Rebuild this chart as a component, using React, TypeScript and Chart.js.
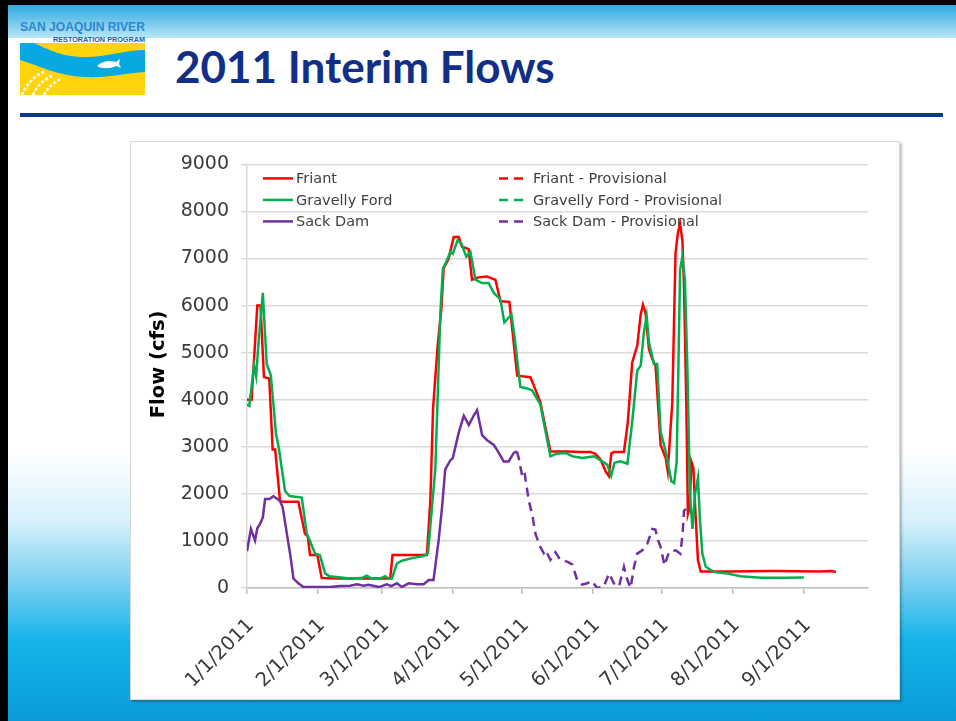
import React, { useEffect, useRef } from "react";
import { Chart, registerables } from "chart.js";

Chart.register(...registerables);

// ---- axis data ----
const monthStartDays = [0, 31, 59, 90, 120, 151, 181, 212, 243];
const monthTickLabels = [
  "1/1/2011", "2/1/2011", "3/1/2011", "4/1/2011", "5/1/2011",
  "6/1/2011", "7/1/2011", "8/1/2011", "9/1/2011",
];
const xMaxDay = 271;
const yMin = 0;
const yMax = 9000;
const yStep = 1000;
const yAxisTitle = "Flow (cfs)";

// ---- series: [day offset from 1/1/2011, flow cfs] ----
const friantFlow: [number, number][] = [
  [0, 4000], [2, 4000], [4.5, 6000], [5.9, 6000], [7.4, 4480], [9.7, 4450],
  [11.2, 2940], [12.3, 2940], [14.4, 1850], [16, 1830], [22.4, 1830],
  [25.3, 1150], [26.5, 1100], [27.5, 700], [30.7, 700], [32.6, 210],
  [40, 200], [50, 200], [62.5, 200], [63.5, 700], [78.5, 700], [80, 1850],
  [81.2, 3810], [83.2, 5150], [84.8, 5920], [85.8, 6790], [88, 7000],
  [90.2, 7460], [92.4, 7460], [93.8, 7250], [96.7, 7200], [98.2, 6550],
  [101, 6600], [104.7, 6620], [108.4, 6550], [110.6, 6090], [114.5, 6080],
  [117.9, 4510], [123.7, 4480], [128, 3950], [132.4, 2900], [140, 2900],
  [145, 2890], [150, 2890], [152, 2850], [154.3, 2730], [156.5, 2480],
  [157.9, 2380], [159, 2860], [160.1, 2890], [164.5, 2890], [166.2, 3530],
  [168.1, 4790], [170.3, 5150], [171.8, 5810], [172.8, 6020], [173.9, 5850],
  [175.4, 5080], [176.9, 4860], [178.3, 4720], [180.5, 3040], [182.7, 2760],
  [183.6, 2480], [185.6, 3950], [187, 7110], [188, 7530], [189, 7740],
  [190, 7390], [190.7, 6410], [191.7, 3950], [192.4, 1570], [193.2, 1710],
  [193.9, 2690], [194.8, 2550], [195.8, 1500], [196.8, 590], [198, 350],
  [210, 350], [230, 360], [250, 350], [255, 360], [257, 340],
];

const gravellyFordFlow: [number, number][] = [
  [0, 3900], [1, 3870], [3.1, 4730], [4, 4500], [5, 5200], [6.9, 6270],
  [8.6, 4760], [10.4, 4520], [12.7, 3260], [13.9, 2970], [16.6, 2060],
  [18.6, 1955], [23.9, 1920], [26.1, 1150], [27.5, 1000], [29.7, 730],
  [31.8, 700], [34.1, 310], [36, 250], [45, 200], [50, 210], [52.3, 260],
  [54, 210], [58, 200], [60.3, 250], [61.5, 210], [63.2, 200], [65.4, 520],
  [67.6, 580], [72.6, 640], [77, 680], [79, 750], [82.2, 2550], [84.4, 5850],
  [85.5, 6790], [87, 6930], [88.7, 7140], [89.8, 7100], [91.9, 7390],
  [93.5, 7320], [95.7, 7040], [97.5, 7140], [99.7, 6550], [102.5, 6480],
  [105.4, 6480], [107.7, 6270], [110.6, 6130], [112.3, 5640], [115.4, 5810],
  [116.7, 5360], [119.3, 4270], [122.2, 4240], [124.4, 4200], [128, 3900],
  [132.4, 2800], [135, 2850], [139, 2870], [142, 2800], [146.3, 2760],
  [151.4, 2800], [155, 2690], [157.2, 2620], [158.9, 2380], [160.4, 2660],
  [163, 2690], [166, 2640], [168.1, 3530], [170.3, 4620], [171.8, 4720],
  [173.2, 5430], [174.4, 5780], [175.4, 5220], [177.6, 4760], [179, 4760],
  [180.5, 3320], [182.7, 2900], [184.1, 2550], [185.2, 2270], [186.4, 2230],
  [187.5, 2690], [188.3, 4800], [189, 6760], [190, 7040], [191.1, 6550],
  [192.2, 4650], [193.3, 1990], [194.4, 1255], [195.5, 1990], [196.8, 2340],
  [197.6, 1500], [198.7, 730], [200.2, 450], [203.8, 340], [209.6, 310],
  [215.4, 250], [224.2, 220], [235, 220], [243, 225],
];

const sackDamFlow: [number, number][] = [
  [0, 780], [1.7, 1255], [3.5, 1010], [4.5, 1270], [5.7, 1360], [6.9, 1500],
  [7.9, 1890], [9.8, 1890], [11.5, 1950], [13, 1900], [14.4, 1850],
  [15.6, 1710], [17.4, 1150], [18.8, 730], [20.3, 200], [22.4, 100],
  [24.6, 20], [30, 20], [36.3, 20], [40.6, 40], [45, 50], [48, 80],
  [50.9, 50], [53, 70], [57.6, 20], [61, 80], [63, 40], [65.4, 100],
  [67.6, 20], [70.5, 100], [74.1, 80], [77.1, 80], [79.3, 170], [81.4, 170],
  [83.6, 1000], [85.1, 1710], [86.5, 2520], [88.7, 2710], [89.8, 2760],
  [92.4, 3300], [94.6, 3660], [96.8, 3460], [99, 3670], [100.4, 3780],
  [102.6, 3250], [104.8, 3140], [107.7, 3040], [109.9, 2870], [112, 2690],
  [114.2, 2690], [116.4, 2870], [117.8, 2900],
];

const sackDamProvisional: [number, number][] = [
  [117.8, 2900], [118.6, 2760], [120, 2400], [121, 2480], [123, 1850],
  [124.5, 1550], [125.9, 1150], [128, 870], [129.5, 740], [130.3, 800],
  [132.4, 600], [134.6, 760], [136.8, 590], [139.7, 560], [141.9, 500],
  [144.1, 170], [146.3, 70], [148.5, 100], [150.5, 150], [152.8, 0],
  [155.7, 30], [158, 310], [160.1, 100], [162.3, 30], [164.5, 450],
  [166, 170], [167.4, 0], [168.9, 450], [170.3, 730], [172.5, 800],
  [174.7, 940], [176.9, 1255], [178.2, 1240], [179.5, 1000], [180.5, 870],
  [182.2, 480], [184.2, 770], [187.1, 800], [189.1, 730], [190.1, 1150],
  [190.7, 1640], [191.9, 1700],
];

const friantProvisional: [number, number][] = [];
const gravellyFordProvisional: [number, number][] = [];

const seriesLabels = [
  "Friant", "Gravelly Ford", "Sack Dam",
  "Friant - Provisional", "Gravelly Ford - Provisional", "Sack Dam - Provisional",
];

const RED = "#ff0000";
const GREEN = "#00b050";
const PURPLE = "#7030a0";
const DASH = [9, 6];

const toXY = (arr: [number, number][]) => arr.map(([x, y]) => ({ x, y }));

const legendPlugin = {
  id: "cornerLegend",
  afterDraw(chart: any) {
    const { ctx, chartArea } = chart;
    ctx.save();
    ctx.font = '14.5px "DejaVu Sans"';
    ctx.textBaseline = "middle";
    chart.data.datasets.forEach((ds: any, i: number) => {
      const col = i < 3 ? 0 : 1;
      const row = i % 3;
      const y = chartArea.top + 14 + row * 21.5;
      const x0 = chartArea.left + (col === 0 ? 16 : 252);
      const len = col === 0 ? 30 : 26;
      ctx.strokeStyle = ds.borderColor;
      ctx.lineWidth = 2.5;
      ctx.setLineDash(ds.borderDash || []);
      ctx.beginPath();
      ctx.moveTo(x0, y);
      ctx.lineTo(x0 + len, y);
      ctx.stroke();
      ctx.setLineDash([]);
      ctx.fillStyle = "#404040";
      ctx.fillText(ds.label, x0 + (col === 0 ? 33 : 34), y + 1);
    });
    // y-axis title
    ctx.save();
    ctx.translate(chartArea.left - 88, chartArea.top + 200);
    ctx.rotate(-Math.PI / 2);
    ctx.textAlign = "center";
    ctx.textBaseline = "middle";
    ctx.font = 'bold 19.5px "DejaVu Sans"';
    ctx.fillStyle = "#000000";
    ctx.fillText(yAxisTitle, 0, 0);
    ctx.restore();
    ctx.restore();
  },
};

function FlowChart() {
  const ref = useRef<HTMLCanvasElement | null>(null);
  useEffect(() => {
    if (!ref.current) return;
    const base = {
      pointRadius: 0,
      pointHoverRadius: 0,
      borderWidth: 2.5,
      tension: 0,
      fill: false,
    };
    const chart = new Chart(ref.current, {
      type: "line",
      data: {
        datasets: [
          { ...base, label: seriesLabels[0], data: toXY(friantFlow), borderColor: RED, order: 4 },
          { ...base, label: seriesLabels[1], data: toXY(gravellyFordFlow), borderColor: GREEN, order: 3 },
          { ...base, label: seriesLabels[2], data: toXY(sackDamFlow), borderColor: PURPLE, order: 2 },
          { ...base, label: seriesLabels[3], data: toXY(friantProvisional), borderColor: RED, borderDash: DASH, order: 6 },
          { ...base, label: seriesLabels[4], data: toXY(gravellyFordProvisional), borderColor: GREEN, borderDash: DASH, order: 5 },
          { ...base, label: seriesLabels[5], data: toXY(sackDamProvisional), borderColor: PURPLE, borderDash: DASH, order: 1 },
        ],
      },
      options: {
        responsive: false,
        animation: false,
        devicePixelRatio: 1,
        layout: { padding: { top: 19, right: 32, left: 0, bottom: 0 } },
        plugins: { legend: { display: false }, tooltip: { enabled: false } },
        scales: {
          x: {
            type: "linear",
            min: 0,
            max: xMaxDay,
            afterBuildTicks: (axis: any) => {
              axis.ticks = monthStartDays.map((v) => ({ value: v }));
            },
            afterFit: (axis: any) => {
              axis.height = 112;
            },
            ticks: {
              autoSkip: false,
              maxRotation: 45,
              minRotation: 45,
              padding: 20,
              labelOffset: 4,
              color: "#3a3a3a",
              font: { family: "DejaVu Sans", size: 19.5 },
              callback: (_v: any, i: number) => monthTickLabels[i],
            },
            grid: {
              drawOnChartArea: false,
              drawTicks: true,
              tickLength: 6,
              color: "#bfbfbf",
              lineWidth: 1.5,
            },
            border: { color: "#bfbfbf", width: 1.5 },
          },
          y: {
            min: yMin,
            max: yMax,
            afterFit: (axis: any) => {
              axis.width = 117;
            },
            ticks: {
              stepSize: yStep,
              padding: 12,
              color: "#3a3a3a",
              font: { family: "DejaVu Sans", size: 19 },
              callback: (v: any) => String(v),
            },
            grid: { color: "#d9d9d9", lineWidth: 1.5, tickLength: 6 },
            border: { color: "#d9d9d9", width: 1.5 },
          },
        },
      },
      plugins: [legendPlugin],
    } as any);
    return () => chart.destroy();
  }, []);
  return (
    <canvas
      ref={ref}
      width={770}
      height={559}
      style={{ position: "absolute", left: 130, top: 141, width: 770, height: 559 }}
    />
  );
}

function Logo() {
  return (
    <svg width={160} height={100} style={{ position: "absolute", left: 0, top: 0 }}>
      <text x={20} y={31} fontFamily="'Liberation Sans Narrow', 'Liberation Sans'" fontWeight="bold"
        fontSize={13} fill="#2a86d3" textLength={125} lengthAdjust="spacingAndGlyphs">SAN JOAQUIN RIVER</text>
      <text x={53} y={41.5} fontFamily="'Liberation Sans Narrow', 'Liberation Sans'" fontWeight="bold"
        fontSize={8} fill="#1b5cae" textLength={92} lengthAdjust="spacingAndGlyphs">RESTORATION PROGRAM</text>
      <rect x={20} y={43} width={125} height={52} fill="#ffd40a" />
      <path d="M20 43 L34 43 C 50 50, 62 57, 85 57 C 108 57, 125 50, 145 50 L145 72 C 125 73, 110 78, 85 77 C 58 76, 40 66, 20 60 Z" fill="#08a8e2" />
      <path d="M97 66 C 102 61, 110 60, 116 62 L120 59 L119 64 L121 68 L116 66 C 110 69, 102 69, 97 66 Z" fill="#ffffff" />
      <path d="M22 95 C 26 85, 34 76, 44 72" stroke="#ffffff" strokeWidth={2.5} fill="none" strokeDasharray="3 2" />
      <path d="M33 95 C 36 87, 43 80, 52 76" stroke="#ffffff" strokeWidth={2.5} fill="none" strokeDasharray="3 2" />
      <path d="M44 95 C 47 89, 52 84, 60 79" stroke="#ffffff" strokeWidth={2.5} fill="none" strokeDasharray="3 2" />
    </svg>
  );
}

export default function App() {
  return (
    <div
      style={{
        position: "fixed",
        left: 0,
        top: 0,
        width: 956,
        height: 721,
        overflow: "hidden",
        background:
          "linear-gradient(to bottom, #ffffff 0px, #ffffff 450px, #d8f1fb 520px, #7fd1f1 580px, #14b4ea 640px, #0a9ad8 721px)",
      }}
    >
      <div style={{ position: "absolute", left: 0, top: 0, width: 956, height: 5, background: "#000" }} />
      <div style={{ position: "absolute", left: 0, top: 0, width: 8, height: 721, background: "#000" }} />
      <div
        style={{
          position: "absolute", left: 8, top: 5, width: 948, height: 33,
          background: "linear-gradient(to bottom, #2ea8e0, #b9e6f8)",
        }}
      />
      <Logo />
      <div
        style={{
          position: "absolute", left: 175, top: 41, fontFamily: "Lato, 'Open Sans', sans-serif",
          fontWeight: 700, fontSize: 44, lineHeight: "50px", color: "#112f86", whiteSpace: "nowrap",
        }}
      >
        2011 Interim Flows
      </div>
      <div style={{ position: "absolute", left: 20, top: 113, width: 923, height: 4, background: "#0b378c" }} />
      <div
        style={{
          position: "absolute", left: 130, top: 141, width: 770, height: 559, boxSizing: "border-box",
          background: "#ffffff", border: "1px solid #d9d9d9", boxShadow: "2px 2px 2px rgba(0,0,0,0.25)",
        }}
      />
      <FlowChart />
    </div>
  );
}
